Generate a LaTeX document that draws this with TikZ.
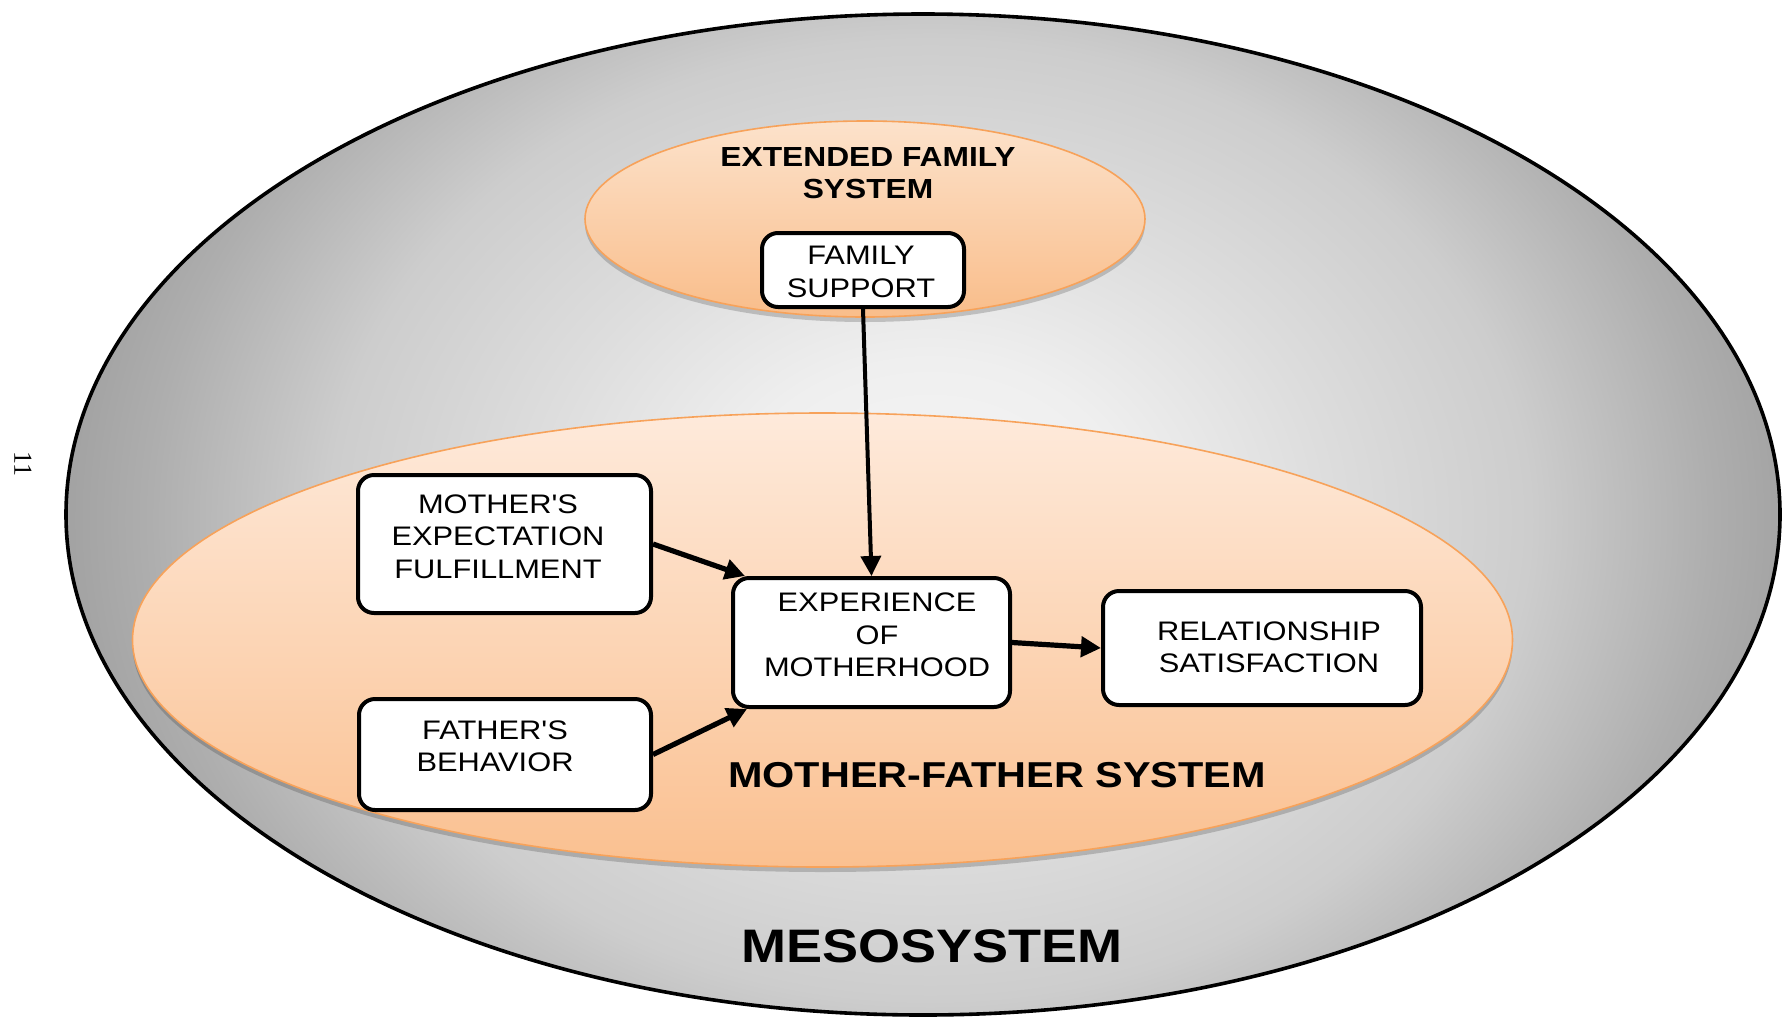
\documentclass[tikz,border=0pt]{standalone}
\usepackage{fontspec}
\newfontfamily\wide[FakeStretch=1.15]{Liberation Sans}
\newfontfamily\pgserif{Liberation Serif}
\usetikzlibrary{arrows.meta,shadows}
\definecolor{g0}{HTML}{F6F6F6}
\definecolor{g1}{HTML}{EFEFEF}
\definecolor{g2}{HTML}{DDDDDD}
\definecolor{g3}{HTML}{CDCDCD}
\definecolor{g4}{HTML}{AEAEAE}
\definecolor{g5}{HTML}{A0A0A0}
\definecolor{g6}{HTML}{939393}
\definecolor{mftop}{HTML}{FEEADB}
\definecolor{mfbot}{HTML}{FAC090}
\definecolor{exttop}{HTML}{FCE2CB}
\definecolor{extbot}{HTML}{F9BD8A}
\definecolor{oedge}{HTML}{F7A25A}
\pgfdeclareradialshading{mesoshade}{\pgfpointorigin}{color(0bp)=(g0); color(5bp)=(g1); color(10bp)=(g2); color(15bp)=(g3); color(19.5bp)=(g4); color(22bp)=(g5); color(25bp)=(g6); color(50bp)=(g6)}
\tikzset{
  boxshape/.style={draw=black, line width=2pt, fill=white, rounded corners=8pt, inner sep=0pt},
  boxtext/.style={align=center, inner sep=0pt, font=\wide\fontsize{13.4}{16.2}\selectfont},
  syslabel/.style={align=center, inner sep=0pt},
  arr/.style={-{Triangle[length=10pt,width=10pt]}, line width=2.6pt, draw=black},
  orangeell/.style={draw=oedge, line width=0.8pt,
    general shadow={fill=black, opacity=0.18, shadow yshift=-2.5pt}},
}
\begin{document}
\begin{tikzpicture}[x=0.5pt,y=-0.5pt]
\useasboundingbox[fill=white] (0,0) rectangle (1783,1018);
% outer mesosystem ellipse
\begin{scope}
  \clip (923,514.5) ellipse [x radius=428.5pt, y radius=250.25pt];
  \shade[shading=mesoshade] (930,520) ellipse [x radius=500pt, y radius=400pt];
\end{scope}
\draw[line width=1.8pt] (923,514.5) ellipse [x radius=428.5pt, y radius=250.25pt];
% orange systems
\path[orangeell, top color=mftop, bottom color=mfbot] (822.5,640) ellipse [x radius=345pt, y radius=113.5pt];
\path[orangeell, top color=exttop, bottom color=extbot] (865,219) ellipse [x radius=140pt, y radius=49pt];
% labels
\node[syslabel, font=\wide\bfseries\fontsize{13.8}{16}\selectfont] (extlabel) at (868,173) {EXTENDED FAMILY\\SYSTEM};
\node[syslabel, font=\wide\bfseries\fontsize{18}{20}\selectfont] (mflabel) at (997,775) {MOTHER-FATHER SYSTEM};
\node[syslabel, font=\wide\bfseries\fontsize{23.5}{26}\selectfont] (mesolabel) at (932,946) {MESOSYSTEM};
\node[rotate=-90, inner sep=0pt, font=\pgserif\fontsize{13}{13}\selectfont] (pagenum) at (23,464) {11};
% boxes
\node[boxshape, minimum width=101pt, minimum height=37pt] (FS) at (863,270) {};
\node[boxshape, minimum width=146.5pt, minimum height=69pt] (ME) at (504.5,544) {};
\node[boxshape, minimum width=138.5pt, minimum height=64.5pt] (EX) at (871.5,642.5) {};
\node[boxshape, minimum width=159pt, minimum height=57pt] (RS) at (1262,648) {};
\node[boxshape, minimum width=146pt, minimum height=55.5pt] (FB) at (505,754.5) {};
\node[boxtext] (FS-t) at (861,272) {FAMILY\\SUPPORT};
\node[boxtext] (ME-t) at (498,536.5) {MOTHER'S\\EXPECTATION\\FULFILLMENT};
\node[boxtext] (EX-t) at (877,635) {EXPERIENCE\\OF\\MOTHERHOOD};
\node[boxtext] (RS-t) at (1269,647) {RELATIONSHIP\\SATISFACTION};
\node[boxtext] (FB-t) at (495,746) {FATHER'S\\BEHAVIOR};
% connectors
\draw[arr, line width=2pt] (FS.south) -- (EX.north);
\draw[arr] (ME.east) -- ([xshift=7pt]EX.north west);
\draw[arr] (FB.east) -- ([xshift=8pt]EX.south west);
\draw[arr] (EX.east) -- (RS.west);
\end{tikzpicture}
\end{document}
